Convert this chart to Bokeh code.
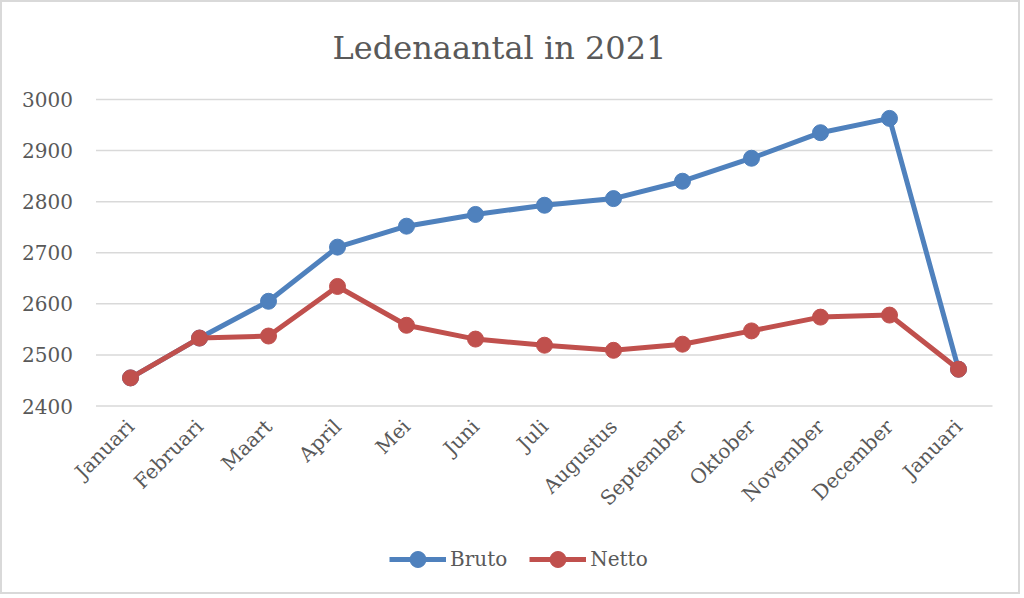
from bokeh.plotting import figure
from bokeh.models import Range1d, Legend, LegendItem, LabelSet, ColumnDataSource
from bokeh.core.properties import value
from bokeh.embed import file_html
from bokeh.resources import INLINE
import math

months = ["Januari", "Februari", "Maart", "April", "Mei", "Juni", "Juli",
          "Augustus", "September", "Oktober", "November", "December", "Januari"]
bruto = [2455, 2533, 2605, 2711, 2752, 2775, 2793, 2806, 2840, 2885, 2935, 2963, 2472]
netto = [2455, 2533, 2537, 2634, 2558, 2531, 2519, 2509, 2521, 2547, 2574, 2578, 2472]
y_ticks = [2400, 2500, 2600, 2700, 2800, 2900, 3000]

FONT = "DejaVu Serif"
TXT = "#595959"
BLUE = "#4F81BD"
RED = "#C0504D"
GRID = "#d9d9d9"

# layout (pixels inside the figure)
TOP, FRAME_H, LEFT, RIGHT, WIDTH = 88, 500, 4, 26, 1016
FRAME_W = WIDTH - LEFT - RIGHT
Y_TOP_GRID, Y_BOT_GRID = 97.0, 403.5     # pixel rows of the top / bottom gridline
FIRST_X, STEP_X = 128.0, 69.0            # pixel column of first category, band width
ky = (Y_BOT_GRID - Y_TOP_GRID) / (y_ticks[-1] - y_ticks[0])
y_start = y_ticks[0] - (TOP + FRAME_H - Y_BOT_GRID) / ky
y_end = y_ticks[-1] + (Y_TOP_GRID - TOP) / ky
n = len(months)
x_start = -(FIRST_X - LEFT) / STEP_X
x_end = (LEFT + FRAME_W - FIRST_X) / STEP_X

x = list(range(n))

p = figure(frame_width=FRAME_W, frame_height=FRAME_H, output_backend="svg", toolbar_location=None,
           x_range=Range1d(x_start, x_end), y_range=Range1d(y_start, y_end),
           min_border_left=LEFT, min_border_right=RIGHT, min_border_top=TOP, min_border_bottom=2,
           title="Ledenaantal in 2021")
p.styles = {"border": "2px solid #d9d9d9"}
p.outline_line_color = None
p.background_fill_color = "white"
p.border_fill_color = "white"
p.xaxis.visible = False
p.yaxis.visible = False
p.xgrid.visible = False
p.ygrid.visible = False

p.title.text_font = FONT
p.title.text_font_size = "32px"
p.title.text_font_style = "normal"
p.title.text_color = TXT
p.title.align = "center"
p.title.standoff = 48
p.title.offset = 13

# horizontal gridlines across the category bands
p.segment(x0=[-0.5] * len(y_ticks), x1=[n - 0.5] * len(y_ticks), y0=y_ticks, y1=y_ticks,
          line_color=GRID, line_width=1.5)

# value labels on the left
ysrc = ColumnDataSource(dict(x=[-0.5] * len(y_ticks), y=y_ticks, text=[str(t) for t in y_ticks]))
p.add_layout(LabelSet(x="x", y="y", text="text", source=ysrc, x_offset=-23,
                      text_align="right", text_baseline="middle",
                      text_font=value(FONT), text_font_size=value("20px"), text_color=TXT))

r1 = p.line(x, bruto, line_color=BLUE, line_width=5)
c1 = p.scatter(x, bruto, size=16, fill_color=BLUE, line_color=BLUE)
r2 = p.line(x, netto, line_color=RED, line_width=5)
c2 = p.scatter(x, netto, size=16, fill_color=RED, line_color=RED)

# category labels, slanted, just below the lowest gridline
xsrc = ColumnDataSource(dict(x=x, y=[y_ticks[0]] * n, text=months))
p.add_layout(LabelSet(x="x", y="y", text="text", source=xsrc, angle=math.pi / 4,
                      text_align="right", text_baseline="middle", y_offset=-17, x_offset=0,
                      text_font=value(FONT), text_font_size=value("20px"), text_color=TXT))

legend = Legend(items=[LegendItem(label="Bruto", renderers=[r1, c1]),
                       LegendItem(label="Netto", renderers=[r2, c2])],
                orientation="horizontal", location=(389 - 2 - LEFT, 11),
                label_text_font=FONT, label_text_font_size="20px", label_text_color=TXT,
                glyph_width=57, glyph_height=40, spacing=22, label_standoff=4,
                border_line_color=None, background_fill_alpha=0, margin=0, padding=0)
p.add_layout(legend, "center")

open("out.html", "w").write(file_html(p, INLINE))
